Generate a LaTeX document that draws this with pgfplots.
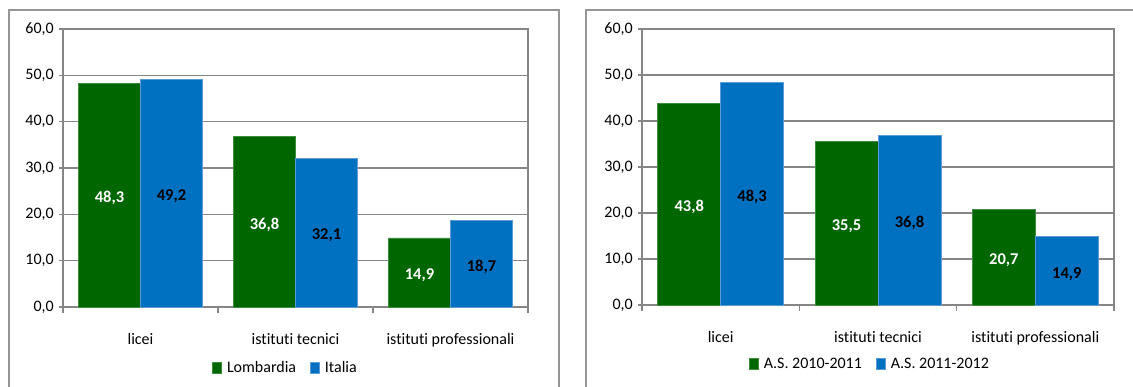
\documentclass[border=0pt]{standalone}
\usepackage{pgfplots}
\pgfplotsset{compat=1.18}
\usepackage{fontspec}
\setmainfont{Carlito}[Ligatures=NoCommon]

\definecolor{bargreen}{RGB}{0,102,0}
\definecolor{barblue}{RGB}{0,112,192}
\definecolor{greenedge}{RGB}{60,140,60}
\definecolor{blueedge}{RGB}{90,155,215}
\definecolor{linegray}{RGB}{134,134,134}
\definecolor{framegray}{RGB}{150,150,150}

\pgfplotsset{
  panel/.style={
    scale only axis, anchor=south west,
    ybar=0pt, bar width=0.4,
    xmin=-0.5, xmax=2.5, ymin=0, ymax=60,
    xtick={0,1,2},
    xticklabels={licei, istituti tecnici, istituti professionali},
    minor xtick={-0.5,0.5,1.5,2.5},
    ytick={0,10,...,60},
    xtick pos=bottom, ytick pos=left,
    tick align=outside,
    major tick length=4pt, minor tick length=6pt,
    major x tick style={draw=none},
    tick style={linegray, line width=1.2pt},
    axis line style={linegray, line width=1.2pt},
    ymajorgrids, grid style={linegray, line width=1.2pt},
    /pgf/number format/assume math mode=true,
    tick label style={font=\fontsize{16}{19}\selectfont, inner sep=0pt},
    yticklabel style={/pgf/number format/fixed, /pgf/number format/fixed zerofill,
      /pgf/number format/precision=1, /pgf/number format/use comma, xshift=-5pt},
    xticklabel style={anchor=base, yshift=-33pt},
    visualization depends on=y \as \rawy,
    nodes near coords,
    every node near coord/.append style={
      anchor=center, font=\bfseries\fontsize{16.5}{19}\selectfont,
      shift={(axis direction cs:0,-\rawy/2)}, yshift=-3pt,
      /pgf/number format/fixed, /pgf/number format/fixed zerofill,
      /pgf/number format/precision=1, /pgf/number format/use comma},
    legend columns=2,
    legend style={draw=none, fill=none, font=\fontsize{16}{19}\selectfont,
      /tikz/every odd column/.append style={column sep=3pt},
      /tikz/every even column/.append style={column sep=12pt}},
    legend image code/.code={\fill[##1] (0pt,-5.5pt) rectangle (9pt,5.5pt);},
  },
  gbar/.style={fill=bargreen, draw=greenedge, line width=0.8pt,
    every node near coord/.append style={text=white}},
  bbar/.style={fill=barblue, draw=blueedge, line width=0.8pt,
    every node near coord/.append style={text=black}},
}

\begin{document}
\begin{tikzpicture}
\useasboundingbox (0,0) rectangle (1133pt,-387pt);
% frames round the two panels
\draw[framegray, line width=1.5pt] (9pt,-387pt) -- (9pt,-10pt) -- (559pt,-10pt) -- (559pt,-387pt);
\draw[framegray, line width=1.5pt] (586pt,-387pt) -- (586pt,-10pt) -- (1133pt,-10pt);

\begin{axis}[panel, at={(63pt,-307pt)}, width=465pt, height=278pt,
  legend style={at={(rel axis cs:0.4785,-0.219)}, anchor=center}]
  \addplot[gbar] coordinates {(0,48.3) (1,36.8) (2,14.9)};
  \addplot[bbar] coordinates {(0,49.2) (1,32.1) (2,18.7)};
  \legend{Lombardia, Italia}
\end{axis}

\begin{axis}[panel, at={(642pt,-305pt)}, width=472pt, height=276pt,
  legend style={at={(rel axis cs:0.483,-0.2135)}, anchor=center}]
  \addplot[gbar] coordinates {(0,43.8) (1,35.5) (2,20.7)};
  \addplot[bbar] coordinates {(0,48.3) (1,36.8) (2,14.9)};
  \legend{A.S. 2010-2011, A.S. 2011-2012}
\end{axis}
\end{tikzpicture}
\end{document}
